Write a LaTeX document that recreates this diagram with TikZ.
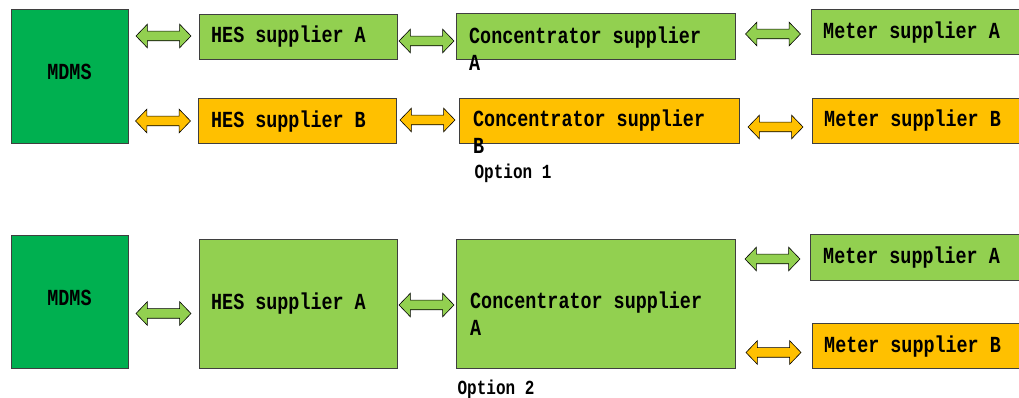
\documentclass[tikz,border=0pt]{standalone}
\usepackage{fontspec}
\newfontfamily\boxfont{Liberation Mono}[FakeStretch=0.8]
\usetikzlibrary{shapes.arrows,calc}
\definecolor{mdmsgreen}{HTML}{00B050}
\definecolor{supgreen}{HTML}{92D050}
\definecolor{suporange}{HTML}{FFC000}
\definecolor{boxline}{HTML}{3F3F3F}
% block arrow between two boxes, at height #4
\newcommand\link[5]{\path let \p1=(#2.east), \p2=(#3.west) in node[biarrow,fill=#5] (#1) at ({(\x1+\x2)/2},#4) {};}
\newcommand\unit[6]{\node[unit,fill=#2,minimum width=#5,minimum height=#6] (#1) at (#3,#4) {};}

\begin{document}
\begin{tikzpicture}[x=1pt,y=1pt]
\tikzset{unit/.style={draw=boxline,line width=0.9pt,inner sep=0pt}}
\tikzset{biarrow/.style={double arrow,draw=black,line width=0.6pt,inner sep=0pt,text height=4.5pt,text depth=4.5pt,minimum height=55,double arrow head extend=7,double arrow tip angle=92}}
\tikzset{lbl/.style={font=\boxfont\bfseries\fontsize{23}{27.5}\selectfont,align=left,inner sep=0pt}}
\tikzset{opt/.style={font=\boxfont\bfseries\fontsize{20}{24}\selectfont,inner sep=0pt}}
\useasboundingbox (0,0) rectangle (1019,398);
\clip (0,0) rectangle (1019,398);

% option 1
\unit{mdms1}{mdmsgreen}{69.5}{322}{117}{134}
\unit{hesA1}{supgreen}{298}{361.5}{198}{45}
\unit{hesB1}{suporange}{297}{277.5}{198}{45}
\unit{concA1}{supgreen}{595.5}{362}{279}{46}
\unit{concB1}{suporange}{599}{277.5}{280}{45}
\unit{meterA1}{supgreen}{920.5}{366.5}{219}{45}
\unit{meterB1}{suporange}{921}{277.5}{218}{45}

\node[lbl] (mdms1-t) at ([yshift=4]mdms1.center) {MDMS};
\node[lbl,anchor=base west] (hesA1-t) at (211,355.5) {HES supplier A};
\node[lbl,anchor=base west] (hesB1-t) at (211,270.5) {HES supplier B};
\node[lbl,anchor=base west] (concA1-t) at (469,327) {Concentrator supplier\\A};
\node[lbl,anchor=base west] (concB1-t) at (473,244) {Concentrator supplier\\B};
\node[lbl,anchor=base west] (meterA1-t) at (823,359.5) {Meter supplier A};
\node[lbl,anchor=base west] (meterB1-t) at (824,271.5) {Meter supplier B};
\node[opt] (opt1) at (513,225) {Option 1};

\link{a1}{mdms1}{hesA1}{362}{supgreen}
\link{a2}{mdms1}{hesB1}{277}{suporange}
\link{a3}{hesA1}{concA1}{357}{supgreen}
\link{a4}{hesB1}{concB1}{278}{suporange}
\link{a5}{concA1}{meterA1}{364}{supgreen}
\link{a6}{concB1}{meterB1}{271}{suporange}

% option 2
\unit{mdms2}{mdmsgreen}{69.5}{96.5}{117}{133}
\unit{hes2}{supgreen}{298}{94.5}{198}{129}
\unit{conc2}{supgreen}{595.5}{94.5}{279}{129}
\unit{meterA2}{supgreen}{920}{141}{220}{46}
\unit{meterB2}{suporange}{921}{52.5}{218}{45}

\node[lbl] (mdms2-t) at ([yshift=4]mdms2.center) {MDMS};
\node[lbl,anchor=base west] (hes2-t) at (211,88.5) {HES supplier A};
\node[lbl,anchor=base west] (conc2-t) at (470,62) {Concentrator supplier\\A};
\node[lbl,anchor=base west] (meterA2-t) at (823,134.5) {Meter supplier A};
\node[lbl,anchor=base west] (meterB2-t) at (824,45.5) {Meter supplier B};
\node[opt] (opt2) at (496,9) {Option 2};

\link{b1}{mdms2}{hes2}{84.5}{supgreen}
\link{b2}{hes2}{conc2}{93}{supgreen}
\link{b3}{conc2}{meterA2}{139}{supgreen}
\link{b4}{conc2}{meterB2}{45.5}{suporange}
\end{tikzpicture}
\end{document}
